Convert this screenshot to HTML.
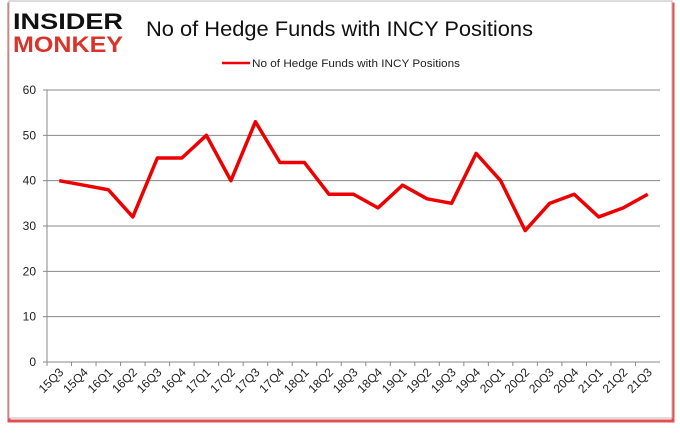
<!DOCTYPE html>
<html><head><meta charset="utf-8"><style>
body{margin:0;width:680px;height:433px;background:#fff;overflow:hidden;font-family:"Liberation Sans",sans-serif}
</style></head><body>
<svg width="680" height="433" xmlns="http://www.w3.org/2000/svg">
<rect x="9" y="4" width="664" height="417" fill="none" stroke="#e02020" stroke-width="3" opacity="0.8"/>
<rect x="9" y="1" width="663" height="417" fill="#fff" stroke="#bbb" stroke-width="1"/>
<text x="13" y="29" font-size="22" font-weight="bold" fill="#111" textLength="110" lengthAdjust="spacingAndGlyphs">INSIDER</text>
<text x="13" y="52" font-size="22" font-weight="bold" fill="#d9342b" textLength="110" lengthAdjust="spacingAndGlyphs">MONKEY</text>
<text x="146" y="36" font-size="21" fill="#111" textLength="387" lengthAdjust="spacingAndGlyphs">No of Hedge Funds with INCY Positions</text>
<line x1="222" y1="63" x2="250" y2="63" stroke="#e00" stroke-width="2.5"/>
<text x="252" y="67" font-size="11" fill="#222" textLength="208" lengthAdjust="spacingAndGlyphs">No of Hedge Funds with INCY Positions</text>
<g id="grid"></g><g id="axes"></g><g id="series"></g>
</svg>
<script>
const categories=["15Q3","15Q4","16Q1","16Q2","16Q3","16Q4","17Q1","17Q2","17Q3","17Q4","18Q1","18Q2","18Q3","18Q4","19Q1","19Q2","19Q3","19Q4","20Q1","20Q2","20Q3","20Q4","21Q1","21Q2","21Q3"];
const values=[40,39,38,32,45,45,50,40,53,44,44,37,37,34,39,36,35,46,40,29,35,37,32,34,37];
const yTicks=[0,10,20,30,40,50,60];
const NS="http://www.w3.org/2000/svg";
const x0=47,x1=660,y0=362,y1=90,ymax=60;
const bw=(x1-x0)/categories.length;
const xs=i=>x0+bw*(i+0.5);
const ys=v=>y0-(y0-y1)*v/ymax;
function mk(t,a,p){const e=document.createElementNS(NS,t);for(const k in a)e.setAttribute(k,a[k]);p.appendChild(e);return e;}
const g=document.getElementById('grid'),ax=document.getElementById('axes'),s=document.getElementById('series');
yTicks.forEach(v=>{
 if(v>0){const l=mk('line',{x1:x0,x2:x1,y1:ys(v),y2:ys(v),stroke:'#888','stroke-width':1},g);
 
 }
 const t=mk('text',{x:x0-11,y:ys(v)+4,'font-size':12,'text-anchor':'end',fill:'#222'},ax);t.textContent=v;
 
 
 mk('line',{x1:x0-4,x2:x0,y1:ys(v),y2:ys(v),stroke:'#888'},ax);
});
mk('line',{x1:x0,x2:x0,y1:y1,y2:y0,stroke:'#888'},ax);
mk('line',{x1:x0,x2:x1,y1:y0,y2:y0,stroke:'#888'},ax);
categories.forEach((c,i)=>{
 mk('line',{x1:x0+bw*i,x2:x0+bw*i,y1:y0,y2:y0+4,stroke:'#888'},ax);
 const x=xs(i)+5,y=y0+11;
 const t=mk('text',{x:x,y:y,'font-size':12,'text-anchor':'end',fill:'#222',transform:`rotate(-45 ${x} ${y})`},ax);t.textContent=c;
 
 
});
const p=mk('polyline',{points:values.map((v,i)=>xs(i)+','+ys(v)).join(' '),fill:'none',stroke:'#e00','stroke-width':3.5,'stroke-linejoin':'round'},s);


</script>
</body></html>
